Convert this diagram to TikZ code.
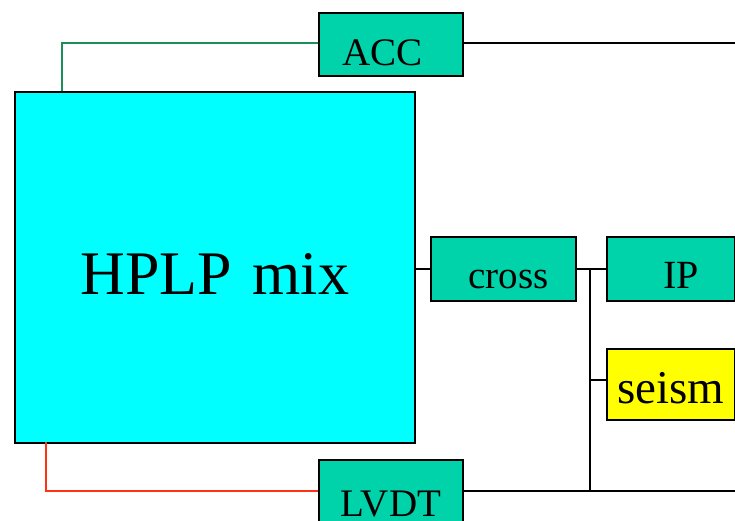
\documentclass[tikz,border=0pt]{standalone}
\usepackage{fontspec}
\setmainfont{Liberation Serif}
\definecolor{teal1}{HTML}{00D2AA}
\definecolor{cyan1}{HTML}{00FFFF}
\definecolor{yel1}{HTML}{FFFF00}
\definecolor{grn1}{HTML}{1A8F5A}
\definecolor{red1}{HTML}{FF3311}
\tikzset{
  blk/.style={draw=black, line width=1.6pt, inner sep=0pt, align=center},
  wire/.style={line width=1.4pt},
}
\begin{document}
\begin{tikzpicture}[x=1pt,y=-1pt]
\useasboundingbox (0,0) rectangle (735,520);
\clip (0,0) rectangle (735,520);
% boxes: text width = box width, text height = baseline - top, text depth = bottom - baseline
\node[blk, fill=cyan1, text width=400pt, text height=203pt, text depth=148pt, font=\fontsize{62}{64}\selectfont, anchor=north west] (hplp) at (14,91) {HPLP mix};
\node[blk, fill=teal1, text width=144pt, text height=53pt, text depth=10pt, font=\fontsize{39}{40}\selectfont, anchor=north west] (acc) at (318,12) {\hspace*{-16pt}ACC};
\node[blk, fill=teal1, text width=145pt, text height=52pt, text depth=12pt, font=\fontsize{39}{40}\selectfont, anchor=north west] (cross) at (430,236) {\hspace*{10pt}cross};
\node[blk, fill=teal1, text width=128pt, text height=52pt, text depth=12pt, font=\fontsize{40}{42}\selectfont, anchor=north west] (ip) at (606,236) {\hspace*{20pt}IP};
\node[blk, fill=yel1, text width=128pt, text height=55pt, text depth=16pt, font=\fontsize{47}{48}\selectfont, anchor=north west] (seism) at (606,348) {seism};
\node[blk, fill=teal1, text width=144pt, text height=57pt, text depth=13pt, font=\fontsize{39}{40}\selectfont, anchor=north west] (lvdt) at (318,459) {LVDT};
% junction coordinates
\coordinate (accend) at (735,43);
\coordinate (lvdtend) at (735,491);
\coordinate (j1) at (590,269);
\coordinate (j2) at (590,380);
\coordinate (j3) at (590,491);
\coordinate (gtop) at (62,91);
\coordinate (rbot) at (46,442);
% connectors
\draw[wire, grn1] (acc.west |- accend) -| (gtop);
\draw[wire, red1] (lvdt.west |- lvdtend) -| (rbot);
\draw[wire] (acc.east |- accend) -- (accend);
\draw[wire] (lvdt.east |- lvdtend) -- (lvdtend);
\draw[wire] (hplp.east |- j1) -- (cross.west |- j1);
\draw[wire] (cross.east |- j1) -- (ip.west |- j1);
\draw[wire] (j1) -- (j3);
\draw[wire] (j2) -- (seism.west |- j2);
\end{tikzpicture}
\end{document}
